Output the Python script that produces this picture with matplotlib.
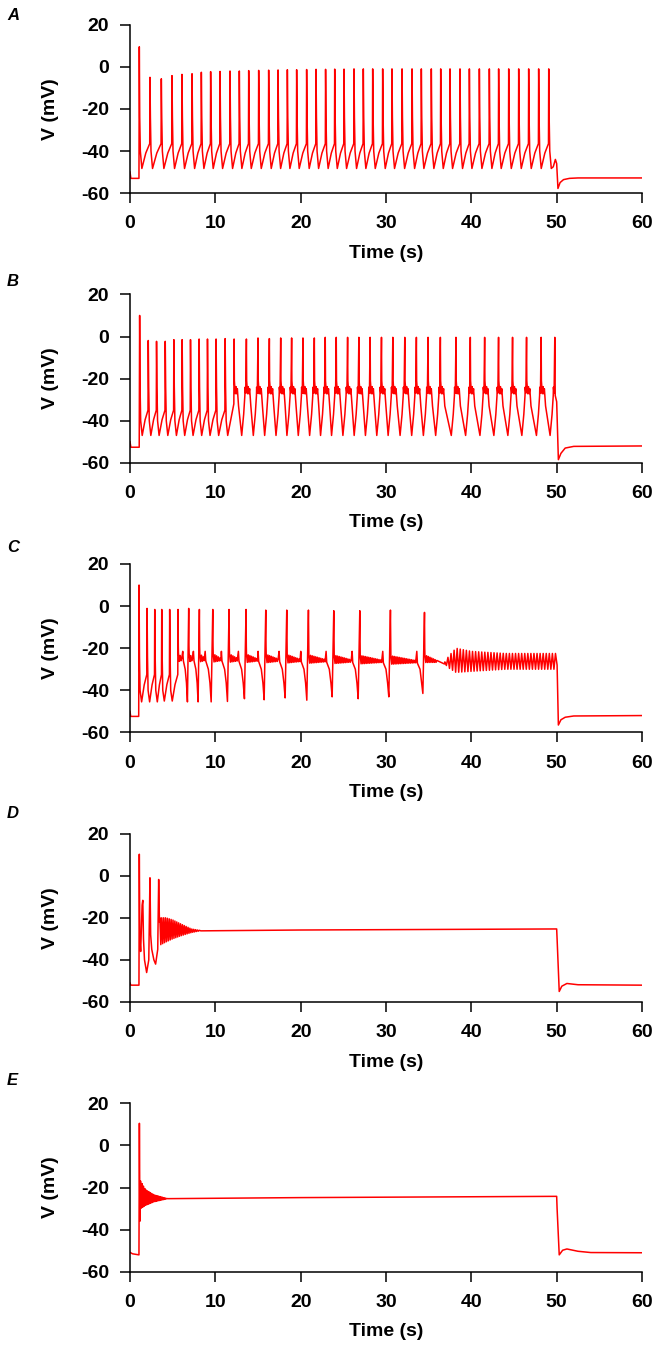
import numpy as np
import matplotlib
matplotlib.use("Agg")
import matplotlib.pyplot as plt

# ---------------------------------------------------------------- data
time_ticks = [0, 10, 20, 30, 40, 50, 60]
volt_ticks = [-60, -40, -20, 0, 20]
panel_labels = ["A", "B", "C", "D", "E"]

# ---- Panel A : regular spiking
A_rest_t = [0.0, 0.1, 1.05]
A_rest_v = [-50.0, -53.0, -53.0]
A_spike_t = [1.09, 2.34, 3.67, 4.92, 6.09, 7.27, 8.36, 9.45, 10.55, 11.72,
             12.81, 13.91, 15.08, 16.25, 17.35, 18.44, 19.53, 20.70, 21.80, 22.92,
             23.99, 25.08, 26.25, 27.34, 28.44, 29.61, 30.70, 31.88, 33.05, 34.14,
             35.31, 36.41, 37.50, 38.67, 39.77, 40.94, 42.11, 43.20, 44.38, 45.55,
             46.72, 47.89, 49.07]
A_spike_v = [9.5, -5.0, -5.7, -4.2, -3.6, -3.3, -2.6, -2.3, -2.2, -2.0,
             -2.0, -1.8, -1.7, -1.6, -1.5, -1.4, -1.4, -1.3, -1.2, -1.2,
             -1.1, -1.1, -1.0, -1.0, -1.0, -1.0, -1.0, -1.0, -1.0, -1.0,
             -1.0, -1.0, -1.0, -1.0, -1.0, -1.0, -1.0, -1.0, -1.0, -1.0,
             -1.0, -1.0, -1.0]
A_trough_v = -48.3
A_apex_v = -36.5
A_end_t = [49.6, 49.85, 50.0, 50.15, 50.4, 50.8, 51.5, 52.5, 60.0]
A_end_v = [-47.5, -44.0, -46.0, -57.8, -55.0, -53.6, -53.0, -52.8, -52.8]

# ---- Panel B : spiking with plateau after ~12 s
B_rest_t = [0.0, 0.1, 1.08]
B_rest_v = [-50.0, -52.6, -52.6]
B_spike_t = [1.13, 2.14, 3.11, 4.13, 5.14, 6.11, 7.09, 8.10, 9.08, 10.09,
             11.15, 12.20, 13.64, 15.00, 16.33, 17.66, 18.94, 20.27, 21.60, 22.88,
             24.17, 25.50, 26.82, 28.14, 29.47, 30.80, 32.20, 33.56, 34.93, 36.37,
             38.20, 39.88, 41.56, 43.19, 44.83, 46.47, 48.18, 49.78]
B_spike_v = [10.0, -1.9, -2.3, -2.3, -1.5, -1.5, -1.5, -1.2, -1.2, -1.2,
             -1.0, -1.2, -1.2, -0.7, -1.0, -0.7, -0.7, -0.7, -0.7, -0.4,
             -0.4, -0.4, -0.4, -0.4, -0.4, -0.4, -0.4, -0.4, -0.4, -0.4,
             -0.4, -0.4, -0.4, -0.4, -0.4, -0.4, -0.4, -0.4]
B_trough_v = -47.0
B_apex_v = -35.0
B_plateau_start = 12.0
B_plateau_v = -25.5
B_end_t = [49.83, 50.0, 50.2, 50.5, 51.0, 52.0, 60.0]
B_end_v = [-28.0, -31.0, -58.5, -55.5, -53.0, -52.2, -52.0]

# ---- Panel C : slowing spikes, then oscillation
C_rest_t = [0.0, 0.08, 1.02]
C_rest_v = [-50.0, -52.4, -52.4]
C_spike_t = [1.06, 2.00, 2.90, 3.72, 4.65, 5.63, 6.88, 8.13, 9.70, 11.61,
             13.60, 15.91, 18.37, 20.91, 23.88, 26.93, 30.52, 34.51]
C_spike_v = [10.0, -1.1, -1.6, -1.6, -1.6, -1.6, -1.1, -1.6, -1.6, -1.6,
             -1.6, -1.9, -1.9, -1.9, -2.2, -2.2, -1.9, -3.0]
C_trough_v = [-45.5, -45.5, -45.5, -45.1, -45.1, -45.5, -45.5, -45.5, -45.3,
              -44.0, -44.5, -43.6, -44.7, -43.1, -44.0, -43.1, -41.5]
C_apex_v = -32.5
C_plateau_start = 5.5
C_plateau_v = [-24.2, -25.8]
C_bump_v = -21.5
C_tail_t = [36.0, 36.85]
C_tail_v = [-26.3, -27.5]
C_osc_t = [36.9, 37.4, 38.2, 40.0, 44.0, 50.0]
C_osc_up = [-26.5, -23.5, -20.0, -21.5, -22.5, -22.5]
C_osc_lo = [-27.5, -29.5, -31.5, -31.0, -30.0, -30.0]
C_osc_period = 0.36
C_end_t = [50.05, 50.2, 50.5, 51.0, 52.0, 60.0]
C_end_v = [-28.0, -56.5, -54.0, -52.8, -52.2, -52.0]

# ---- Panel D : three spikes then damped oscillation
D_start_t = [0.0, 0.1, 1.05, 1.09, 1.15, 1.25, 1.42, 1.50, 1.58, 1.70,
             1.95, 2.20, 2.34, 2.42, 2.55, 2.80, 3.00, 3.25, 3.36, 3.45]
D_start_v = [-51.0, -52.0, -52.0, 10.2, -30.0, -36.0, -14.0, -11.7, -30.0, -40.0,
             -46.0, -40.0, -1.0, -28.0, -35.0, -40.0, -42.0, -35.0, -1.8, -22.0]
D_osc_t = [3.5, 4.2, 5.0, 6.0, 7.2, 8.2]
D_osc_up = [-20.0, -20.0, -21.0, -23.0, -25.3, -26.0]
D_osc_lo = [-33.0, -31.5, -30.0, -28.5, -27.0, -26.2]
D_osc_period = 0.22
D_flat_t = [8.3, 20.0, 50.0]
D_flat_v = [-26.2, -25.8, -25.3]
D_end_t = [50.05, 50.3, 50.6, 51.2, 52.5, 60.0]
D_end_v = [-30.0, -55.0, -52.5, -51.2, -51.8, -52.0]

# ---- Panel E : single spike then plateau
E_start_t = [0.0, 0.3, 1.05, 1.10, 1.16, 1.22]
E_start_v = [-50.8, -51.5, -52.0, 10.5, -36.0, -17.0]
E_osc_t = [1.25, 1.8, 2.8, 4.3]
E_osc_up = [-17.0, -21.0, -23.5, -25.2]
E_osc_lo = [-30.0, -28.5, -26.8, -25.4]
E_osc_period = 0.16
E_flat_t = [4.4, 20.0, 50.0]
E_flat_v = [-25.3, -24.8, -24.2]
E_end_t = [50.05, 50.3, 50.7, 51.2, 52.5, 54.0, 60.0]
E_end_v = [-30.0, -52.0, -49.8, -49.2, -50.3, -50.9, -51.0]


# ---------------------------------------------------------------- helpers
def ripple(t0, t1, lv0, lv1, a0, a1, half=0.08):
    if t1 <= t0:
        return []
    ts = np.arange(t0, t1, half)
    f = (ts - t0) / (t1 - t0)
    lv = lv0 + (lv1 - lv0) * f
    am = a0 + (a1 - a0) * f
    sg = np.where(np.arange(len(ts)) % 2 == 0, 1.0, -1.0)
    return list(zip(ts, lv + sg * am))


def envelope_osc(env_t, up, lo, period):
    ts = np.arange(env_t[0], env_t[-1], period / 2.0)
    u = np.interp(ts, env_t, up)
    l = np.interp(ts, env_t, lo)
    v = np.where(np.arange(len(ts)) % 2 == 0, u, l)
    return list(zip(ts, v))


def simple_cycle(ts, tn, trough, apex):
    return [(ts + 0.05, -24.0), (ts + 0.12, -40.0), (ts + 0.3, trough),
            (ts + 0.3 + 0.5 * (tn - ts - 0.33), trough + 0.62 * (apex - trough)),
            (tn - 0.03, apex)]


# ---------------------------------------------------------------- traces
def trace_A():
    p = list(zip(A_rest_t, A_rest_v))
    n = len(A_spike_t)
    for i in range(n):
        ts = A_spike_t[i]
        p.append((ts, A_spike_v[i]))
        if i + 1 < n:
            p += simple_cycle(ts, A_spike_t[i + 1], A_trough_v, A_apex_v)
        else:
            p += [(ts + 0.05, -24.0), (ts + 0.12, -40.0), (ts + 0.3, A_trough_v)]
    p += list(zip(A_end_t, A_end_v))
    return p


def trace_B():
    p = list(zip(B_rest_t, B_rest_v))
    n = len(B_spike_t)
    for i in range(n):
        ts = B_spike_t[i]
        p.append((ts, B_spike_v[i]))
        if i + 1 >= n:
            break
        tn = B_spike_t[i + 1]
        if ts < B_plateau_start:
            cyc = simple_cycle(ts, tn, B_trough_v, B_apex_v)
            if tn > B_plateau_start:
                cyc[-1] = (tn - 0.03, B_apex_v + 3)
            p += cyc
        else:
            p += [(ts + 0.03, -21.0)]
            p += ripple(ts + 0.06, ts + 0.38, B_plateau_v + 0.5, B_plateau_v - 0.5, 2.2, 1.2)
            p += [(ts + 0.52, -33.0), (tn - 0.55, B_trough_v), (tn - 0.32, -37.0),
                  (tn - 0.18, -28.0)]
            p += ripple(tn - 0.16, tn - 0.01, B_plateau_v, B_plateau_v, 1.4, 1.4)
    p += list(zip(B_end_t, B_end_v))
    return p


def trace_C():
    p = list(zip(C_rest_t, C_rest_v))
    n = len(C_spike_t)
    for i in range(n):
        ts = C_spike_t[i]
        p.append((ts, C_spike_v[i]))
        if i + 1 >= n:
            break
        tn = C_spike_t[i + 1]
        tr = C_trough_v[i]
        if ts < C_plateau_start:
            p += simple_cycle(ts, tn, tr, C_apex_v)
        else:
            d = min(0.95, 0.6 * (tn - ts))
            frac0 = (ts - C_spike_t[0]) / (C_spike_t[-1] - C_spike_t[0])
            lv = C_plateau_v[0] + (C_plateau_v[1] - C_plateau_v[0]) * frac0
            p += [(ts + 0.03, -19.0)]
            p += ripple(ts + 0.05, tn - d, lv, lv - 0.8, 2.0, 0.5, 0.1)
            p += [(tn - d + 0.05, C_bump_v), (tn - d + 0.12, lv - 1.5),
                  (tn - 0.55 * d, -30.0), (tn - 0.35 * d, -36.5), (tn - 0.2 * d, tr)]
    ts = C_spike_t[-1]
    p += [(ts + 0.03, -20.0)]
    p += ripple(ts + 0.05, C_tail_t[0], -25.0, C_tail_v[0], 1.8, 0.4, 0.1)
    p += [(C_tail_t[1], C_tail_v[1])]
    p += envelope_osc(C_osc_t, C_osc_up, C_osc_lo, C_osc_period)
    p += list(zip(C_end_t, C_end_v))
    return p


def trace_D():
    p = list(zip(D_start_t, D_start_v))
    p += envelope_osc(D_osc_t, D_osc_up, D_osc_lo, D_osc_period)
    p += list(zip(D_flat_t, D_flat_v))
    p += list(zip(D_end_t, D_end_v))
    return p


def trace_E():
    p = list(zip(E_start_t, E_start_v))
    p += envelope_osc(E_osc_t, E_osc_up, E_osc_lo, E_osc_period)
    p += list(zip(E_flat_t, E_flat_v))
    p += list(zip(E_end_t, E_end_v))
    return p


traces = [trace_A(), trace_B(), trace_C(), trace_D(), trace_E()]

# ---------------------------------------------------------------- figure
W, H = 664, 1351
fig = plt.figure(figsize=(W / 100, H / 100), dpi=100)
plt.rcParams['font.family'] = ['Liberation Sans', 'DejaVu Sans']

ax_left, ax_w, ax_h = 130, 512, 168.4
tops = [24.7, 294.4, 564.0, 833.6, 1103.3]
letter_cy = [15.0, 281.3, 547.6, 813.9, 1080.2]

for k, top in enumerate(tops):
    ax = fig.add_axes([ax_left / W, 1 - (top + ax_h) / H, ax_w / W, ax_h / H])
    pts = traces[k]
    t = np.array([q[0] for q in pts])
    v = np.array([q[1] for q in pts])
    ax.plot(t, v, color="#ff0000", lw=1.1)
    ax.set_xlim(0, 60)
    ax.set_ylim(-60, 20)
    ax.set_xticks(time_ticks)
    ax.set_yticks(volt_ticks)
    ax.set_xticklabels([str(x) for x in time_ticks], fontsize=14, fontweight="bold")
    ax.set_yticklabels([str(y) for y in volt_ticks], fontsize=14, fontweight="bold")
    for s in ("top", "right"):
        ax.spines[s].set_visible(False)
    for s in ("left", "bottom"):
        ax.spines[s].set_linewidth(1.1)
    ax.tick_params(axis="both", direction="out", length=7, width=1.1, colors="black")
    ax.tick_params(axis="y", pad=8)
    ax.tick_params(axis="x", pad=9)
    ax.patch.set_alpha(0)

    fig.text(50 / W, 1 - (top + ax_h / 2) / H, "V (mV)", rotation=90,
             ha="center", va="center", fontsize=14, fontweight="bold")
    fig.text((ax_left + ax_w / 2) / W, 1 - (top + 228.5) / H, "Time (s)",
             ha="center", va="center", fontsize=14, fontweight="bold")
    fig.text(7 / W, 1 - letter_cy[k] / H, panel_labels[k], ha="left", va="center",
             fontsize=12, fontweight="bold", fontstyle="italic")

fig.savefig("out.png", dpi=100)
